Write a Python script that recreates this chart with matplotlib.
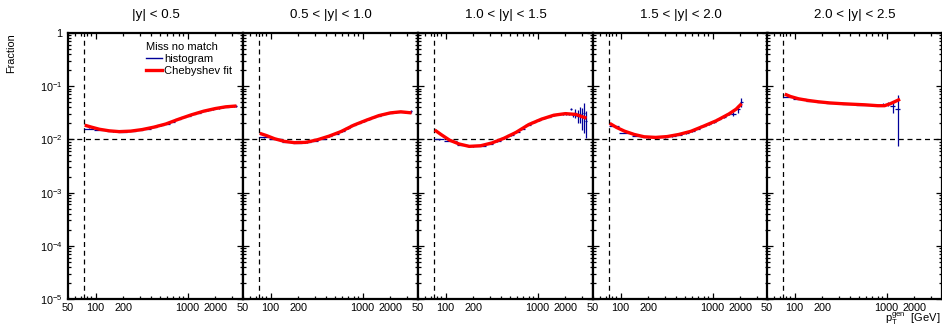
import numpy as np
import matplotlib
matplotlib.use('Agg')
import matplotlib.pyplot as plt
from matplotlib.ticker import FixedLocator, FuncFormatter, LogLocator, NullFormatter
from matplotlib.lines import Line2D

plt.rcParams['font.family'] = ['Liberation Sans', 'DejaVu Sans']
plt.rcParams['mathtext.fontset'] = 'custom'
plt.rcParams['mathtext.rm'] = 'Liberation Sans'
plt.rcParams['mathtext.it'] = 'Liberation Sans:italic'

# rapidity bins
titles = ['|y| < 0.5', '0.5 < |y| < 1.0', '1.0 < |y| < 1.5', '1.5 < |y| < 2.0', '2.0 < |y| < 2.5']

# histogram bin edges (pT gen, GeV)
edges = [74, 97, 133, 174, 220, 272, 330, 395, 468, 548, 638, 737, 846, 967, 1101,
         1248, 1410, 1588, 1784, 2000, 2116, 2238, 2366, 2500, 2640, 2787, 2941,
         3103, 3273, 3450]

# histogram contents and errors per rapidity bin
hist_y_1 = [0.0160, 0.0150, 0.0141, 0.0139, 0.0144, 0.0151, 0.0157, 0.0171, 0.0183, 0.0196,
            0.0216, 0.0241, 0.0263, 0.0280, 0.0302, 0.0318, 0.0342, 0.0354, 0.0370, 0.0386,
            0.0388, 0.0399, 0.0401, 0.0412, 0.0410, 0.0419, 0.0416, 0.0425, 0.0430]
hist_e_1 = [0.0003, 0.0002, 0.0002, 0.0002, 0.0002, 0.0002, 0.0002, 0.0002, 0.0002, 0.0003,
            0.0003, 0.0003, 0.0003, 0.0004, 0.0004, 0.0004, 0.0005, 0.0005, 0.0006, 0.0007,
            0.0008, 0.0008, 0.0009, 0.0010, 0.0011, 0.0012, 0.0013, 0.0015, 0.0017]
hist_y_2 = [0.0110, 0.0101, 0.0090, 0.0087, 0.0088, 0.0095, 0.0103, 0.0115, 0.0127, 0.0143,
            0.0162, 0.0184, 0.0203, 0.0221, 0.0240, 0.0259, 0.0281, 0.0296, 0.0309, 0.0318,
            0.0322, 0.0327, 0.0330, 0.0332, 0.0334, 0.0330, 0.0328, 0.0333, 0.0336]
hist_e_2 = [0.0003, 0.0002, 0.0002, 0.0002, 0.0002, 0.0002, 0.0002, 0.0002, 0.0002, 0.0003,
            0.0003, 0.0003, 0.0003, 0.0004, 0.0004, 0.0004, 0.0005, 0.0005, 0.0006, 0.0007,
            0.0008, 0.0008, 0.0009, 0.0010, 0.0011, 0.0012, 0.0013, 0.0015, 0.0017]
hist_y_3 = [0.0100, 0.0095, 0.0079, 0.0074, 0.0076, 0.0083, 0.0093, 0.0104, 0.0120, 0.0139,
            0.0160, 0.0188, 0.0210, 0.0230, 0.0252, 0.0268, 0.0285, 0.0296, 0.0303, 0.0306,
            0.0300, 0.0370, 0.0290, 0.0310, 0.0280, 0.0300, 0.0270, 0.0310, 0.0220]
hist_e_3 = [0.0003, 0.0002, 0.0002, 0.0002, 0.0002, 0.0002, 0.0002, 0.0002, 0.0003, 0.0003,
            0.0003, 0.0004, 0.0004, 0.0005, 0.0005, 0.0006, 0.0007, 0.0008, 0.0010, 0.0015,
            0.0018, 0.0020, 0.0030, 0.0060, 0.0080, 0.0100, 0.0120, 0.0180, 0.0115]
hist_y_4 = [0.0180, 0.0134, 0.0118, 0.0110, 0.0109, 0.0111, 0.0116, 0.0123, 0.0132, 0.0143,
            0.0158, 0.0176, 0.0196, 0.0213, 0.0238, 0.0262, 0.0300, 0.0300, 0.0380, 0.0500]
hist_e_4 = [0.0004, 0.0003, 0.0003, 0.0003, 0.0003, 0.0003, 0.0003, 0.0003, 0.0003, 0.0004,
            0.0004, 0.0005, 0.0006, 0.0007, 0.0009, 0.0012, 0.0018, 0.0030, 0.0070, 0.0100]
hist_y_5 = [0.0640, 0.0570, 0.0530, 0.0500, 0.0484, 0.0474, 0.0467, 0.0459, 0.0452, 0.0446,
            0.0440, 0.0436, 0.0450, 0.0470, 0.0420, 0.0375]
hist_e_5 = [0.0008, 0.0006, 0.0005, 0.0005, 0.0005, 0.0005, 0.0006, 0.0006, 0.0007, 0.0008,
            0.0010, 0.0020, 0.0030, 0.0040, 0.0100, 0.0300]

# Chebyshev fit curves, sampled
fit_pt = [76, 90, 110, 140, 180, 240, 320, 430, 580, 800, 1100, 1500, 2000, 2600, 3400]
fit_y_1 = [0.0185, 0.0170, 0.0155, 0.0145, 0.0140, 0.0143, 0.0153, 0.0170, 0.0195, 0.0240,
           0.0290, 0.0340, 0.0380, 0.0410, 0.0425]
fit_y_2 = [0.0130, 0.0118, 0.0103, 0.0092, 0.0087, 0.0088, 0.0098, 0.0115, 0.0140, 0.0185,
           0.0230, 0.0280, 0.0315, 0.0330, 0.0315]
fit_y_3 = [0.0150, 0.0122, 0.0097, 0.0082, 0.0074, 0.0076, 0.0086, 0.0105, 0.0135, 0.0190,
           0.0240, 0.0285, 0.0305, 0.0295, 0.0250]
fit_pt_4 = [76, 90, 110, 140, 180, 240, 320, 430, 580, 800, 1100, 1500, 1800, 2066]
fit_y_4 = [0.0200, 0.0168, 0.0143, 0.0124, 0.0112, 0.0109, 0.0113, 0.0124, 0.0142, 0.0178,
           0.0225, 0.0300, 0.0370, 0.0470]
fit_pt_5 = [78, 90, 110, 140, 180, 240, 320, 430, 580, 800, 950, 1100, 1250, 1400]
fit_y_5 = [0.0710, 0.0640, 0.0580, 0.0540, 0.0510, 0.0485, 0.0470, 0.0458, 0.0447, 0.0430,
           0.0430, 0.0470, 0.0520, 0.0570]

pt_cut = 75
frac_ref = 0.01

hists = [(hist_y_1, hist_e_1), (hist_y_2, hist_e_2), (hist_y_3, hist_e_3),
         (hist_y_4, hist_e_4), (hist_y_5, hist_e_5)]
fits = [(fit_pt, fit_y_1), (fit_pt, fit_y_2), (fit_pt, fit_y_3),
        (fit_pt_4, fit_y_4), (fit_pt_5, fit_y_5)]

W, H = 942, 328
fig = plt.figure(figsize=(W / 100, H / 100), dpi=100)

lefts = [68, 243, 418, 593, 767]
pw = 175
top, bottom = 33, 299
blue = '#000099'

edges = np.array(edges, dtype=float)
axes = []
for i, x0 in enumerate(lefts):
    ax = fig.add_axes([x0 / W, 1 - bottom / H, pw / W, (bottom - top) / H])
    axes.append(ax)
    ax.set_xscale('log')
    ax.set_yscale('log')

    hy, he = hists[i]
    n = len(hy)
    lo, hi = edges[:n], edges[1:n + 1]
    cen = 0.5 * (lo + hi)
    ax.errorbar(cen, hy, yerr=he, xerr=[cen - lo, hi - cen], fmt='none',
                ecolor=blue, elinewidth=0.9, capsize=0, zorder=3)

    fx, fy = fits[i]
    ax.plot(fx, fy, color='red', lw=2.4, solid_capstyle='butt', zorder=4)

    ax.axvline(pt_cut, color='black', lw=0.9, ls=(0, (4, 3)), zorder=2)
    ax.axhline(frac_ref, color='black', lw=0.9, ls=(0, (4, 3)), zorder=2)

    ax.set_xlim(50, 4000)
    ax.set_ylim(1e-5, 1)

    ax.xaxis.set_major_locator(FixedLocator([100, 1000]))
    ax.xaxis.set_minor_locator(FixedLocator([50, 60, 70, 80, 90, 200, 300, 400, 500, 600,
                                             700, 800, 900, 2000, 3000, 4000]))
    ax.xaxis.set_major_formatter(FuncFormatter(lambda v, p: '%d' % v))
    ax.xaxis.set_minor_formatter(FuncFormatter(
        lambda v, p: '%d' % v if int(round(v)) in (50, 200, 2000) else ''))

    ax.yaxis.set_major_locator(FixedLocator([1e-5, 1e-4, 1e-3, 1e-2, 1e-1, 1]))
    ax.yaxis.set_minor_locator(LogLocator(base=10, subs=np.arange(2, 10), numticks=20))
    ax.yaxis.set_minor_formatter(NullFormatter())
    if i == 0:
        ax.yaxis.set_major_formatter(FuncFormatter(
            lambda v, p: '1' if v >= 0.99 else r'$10^{%d}$' % int(round(np.log10(v)))))
    else:
        ax.yaxis.set_major_formatter(NullFormatter())

    ax.tick_params(which='both', direction='in', top=True, right=True,
                   labelsize=7.8, width=0.9, colors='black')
    ax.tick_params(which='major', length=4.0)
    ax.tick_params(which='minor', length=2.2)
    ax.tick_params(axis='x', which='both', pad=3)
    ax.tick_params(axis='y', which='both', pad=4)
    for s in ax.spines.values():
        s.set_linewidth(1.6)

    fig.text((x0 + pw / 2) / W, 1 - 15 / H, titles[i], ha='center', va='center',
             fontsize=9.6)

# legend in the first panel
handles = [Line2D([], [], color=blue, lw=1.0), Line2D([], [], color='red', lw=2.4)]
leg = axes[0].legend(handles, ['histogram', 'Chebyshev fit'], title='Miss no match',
                     loc='upper left', bbox_to_anchor=(146 / W, 1 - 42 / H),
                     bbox_transform=fig.transFigure, frameon=False, fontsize=8,
                     title_fontsize=8, alignment='left', borderpad=0,
                     handlelength=1.4, handletextpad=0.2, labelspacing=0.17,
                     borderaxespad=0)

fig.text(11 / W, 1 - 33 / H, 'Fraction', rotation=90, ha='center', va='top', fontsize=7.8)
fig.text(940 / W, 1 - 322 / H, r'$\mathrm{p}_{\mathrm{T}}^{\mathrm{gen}}$  [GeV]', ha='right',
         va='baseline', fontsize=8)

fig.savefig('out.png', dpi=100)
